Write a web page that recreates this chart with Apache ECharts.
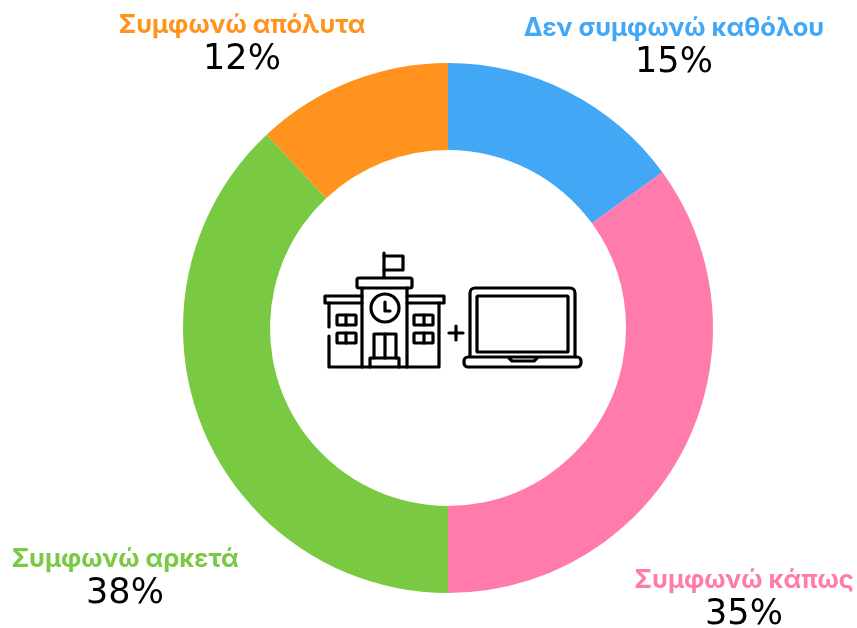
<!DOCTYPE html>
<html><head><meta charset="utf-8">
<style>html,body{margin:0;padding:0;background:#fff}#c{width:857px;height:628px}</style>
<script src="https://cdn.jsdelivr.net/npm/echarts@6/dist/echarts.min.js"></script>
</head><body><div id="c"></div>
<script>
const categories = ['Δεν συμφωνώ καθόλου','Συμφωνώ κάπως','Συμφωνώ αρκετά','Συμφωνώ απόλυτα'];
const values = [15,35,38,12];
const colors = ['#42a7f5','#ff7bac','#7ac943','#ff931e'];
const labelCenters = [[674,46],[744,598],[125,577],[242,43]];

const ink='#000';
const S={stroke:ink,fill:null,lineWidth:3.2,lineCap:'round',lineJoin:'round'};
const R=(x0,y0,x1,y1,r,fill)=>({type:'rect',shape:{x:x0,y:y0,width:x1-x0,height:y1-y0,r:r||1},style:Object.assign({},S,fill?{fill}:{})});
const P=(pts)=>({type:'polyline',shape:{points:pts},style:S});
const icon=[
 P([[384,253],[384,277]]), P([[384,256],[403,256],[403,270],[384,270]]),
 R(357,278,412,288,2),
 P([[362,288],[362,367]]), P([[407,288],[407,367]]),
 P([[362,296],[325,296],[325,303],[362,303]]), P([[407,296],[444,296],[444,303],[407,303]]),
 P([[329,303],[329,327]]), P([[329,336],[329,367],[439,367],[439,303]]),
 {type:'circle',shape:{cx:385,cy:308,r:14},style:S},
 P([[385,302],[385,311],[390,311]]),
 R(337,315,356,325), R(337,333,356,343), P([[346,315],[346,325]]), P([[346,333],[346,343]]),
 R(414,315,433,325), R(414,333,433,343), P([[424,315],[424,325]]), P([[424,333],[424,343]]),
 P([[374,358],[374,334],[396,334],[396,358]]), P([[385,334],[385,358]]),
 P([[370,367],[370,358],[399,358],[399,367]]),
 P([[449,333],[463,333]]), P([[456,326],[456,340]]),
 R(470,288,575,364,5),
 R(477,296,568,352,0),
 R(464,357,581,367,4,'#fff'),
 P([[509,358],[512,361],[534,361],[537,358]])
];
const chart=echarts.init(document.getElementById('c'));
chart.setOption({
 animation:false,
 backgroundColor:'#fff',
 color:colors,
 series:[{
  type:'pie',
  center:[448,328],
  radius:[178,265],
  startAngle:90,
  clockwise:true,
  silent:true,
  data:categories.map((n,i)=>({name:n,value:values[i],
    label:{rich:{n:{color:colors[i],fontFamily:'Inter',fontWeight:700,fontSize:25.5,lineHeight:34,align:'center'},
                 v:{color:'#000',fontFamily:'DejaVu Sans',fontWeight:400,fontSize:35,lineHeight:36,align:'center'}}}})),
  label:{show:true,position:'outside',overflow:'none',formatter:p=>'{n|'+p.name+'}\n{v|'+p.value+'%}'},
  labelLine:{show:false},
  labelLayout:p=>{const c=labelCenters[p.dataIndex];return {x:c[0],y:c[1],align:'center',verticalAlign:'middle',hideOverlap:false};}
 }],
 graphic:{elements:icon}
});
</script></body></html>
